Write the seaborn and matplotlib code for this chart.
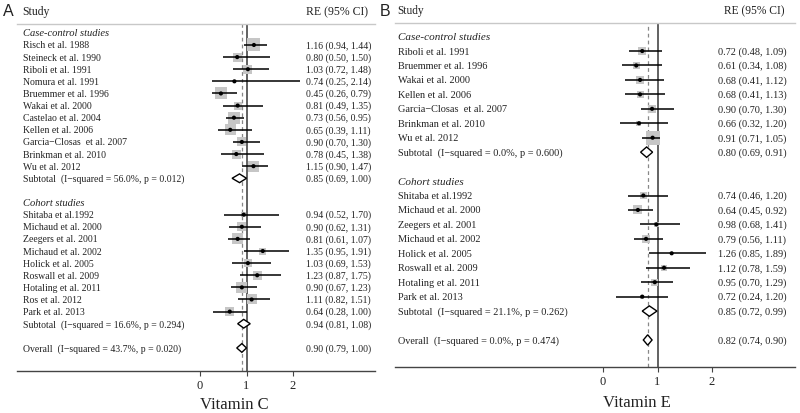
import numpy as np
import pandas as pd
import matplotlib
matplotlib.use("Agg")
import matplotlib.pyplot as plt
from matplotlib.patches import Polygon
import seaborn as sns

# ---- Vitamin C ----
c_cc_study = ["Risch et al. 1988", "Steineck et al. 1990", "Riboli et al. 1991", "Nomura et al. 1991",
              "Bruemmer et al. 1996", "Wakai et al. 2000", "Castelao et al. 2004", "Kellen et al. 2006",
              "Garcia\u2212Closas  et al. 2007", "Brinkman et al. 2010", "Wu et al. 2012"]
c_cc_re = [1.16, 0.80, 1.03, 0.74, 0.45, 0.81, 0.73, 0.65, 0.90, 0.78, 1.15]
c_cc_lo = [0.94, 0.50, 0.72, 0.25, 0.26, 0.49, 0.56, 0.39, 0.70, 0.45, 0.90]
c_cc_hi = [1.44, 1.50, 1.48, 2.14, 0.79, 1.35, 0.95, 1.11, 1.30, 1.38, 1.47]
c_cc_wt = [13, 9, 9, 3, 12, 8, 12, 11, 9, 9, 11]

c_co_study = ["Shitaba et al.1992", "Michaud et al. 2000", "Zeegers et al. 2001", "Michaud et al. 2002",
              "Holick et al. 2005", "Roswall et al. 2009", "Hotaling et al. 2011", "Ros et al. 2012",
              "Park et al. 2013"]
c_co_re = [0.94, 0.90, 0.81, 1.35, 1.03, 1.23, 0.90, 1.11, 0.64]
c_co_lo = [0.52, 0.62, 0.61, 0.95, 0.69, 0.87, 0.67, 0.82, 0.28]
c_co_hi = [1.70, 1.31, 1.07, 1.91, 1.53, 1.75, 1.23, 1.51, 1.00]
c_co_wt = [5, 9, 11, 7, 8, 9, 11, 10, 9]

c_sub_re = [0.85, 0.94]
c_sub_lo = [0.69, 0.81]
c_sub_hi = [1.00, 1.08]
c_sub_i2 = ["56.0%", "16.6%"]
c_sub_p = ["0.012", "0.294"]
c_all = [0.90, 0.79, 1.00]
c_all_i2, c_all_p = "43.7%", "0.020"

# ---- Vitamin E ----
e_cc_study = ["Riboli et al. 1991", "Bruemmer et al. 1996", "Wakai et al. 2000", "Kellen et al. 2006",
              "Garcia\u2212Closas  et al. 2007", "Brinkman et al. 2010", "Wu et al. 2012"]
e_cc_re = [0.72, 0.61, 0.68, 0.68, 0.90, 0.66, 0.91]
e_cc_lo = [0.48, 0.34, 0.41, 0.41, 0.70, 0.32, 0.71]
e_cc_hi = [1.09, 1.08, 1.12, 1.13, 1.30, 1.20, 1.05]
e_cc_wt = [8, 7, 8, 7, 8, 5, 14]

e_co_study = ["Shitaba et al.1992", "Michaud et al. 2000", "Zeegers et al. 2001", "Michaud et al. 2002",
              "Holick et al. 2005", "Roswall et al. 2009", "Hotaling et al. 2011", "Park et al. 2013"]
e_co_re = [0.74, 0.64, 0.98, 0.79, 1.26, 1.12, 0.95, 0.72]
e_co_lo = [0.46, 0.45, 0.68, 0.56, 0.85, 0.78, 0.70, 0.24]
e_co_hi = [1.20, 0.92, 1.41, 1.11, 1.89, 1.59, 1.29, 1.20]
e_co_wt = [7, 9, 5, 8, 3, 6, 7, 4]

e_sub_re = [0.80, 0.85]
e_sub_lo = [0.69, 0.72]
e_sub_hi = [0.91, 0.99]
e_sub_i2 = ["0.0%", "21.1%"]
e_sub_p = ["0.600", "0.262"]
e_all = [0.82, 0.74, 0.90]
e_all_i2, e_all_p = "0.0%", "0.474"

group_names = ["Case-control studies", "Cohort studies"]

sns.set_style("white")
plt.rcParams["font.family"] = ["Liberation Serif", "DejaVu Serif"]
TXT = "#222222"


def ci_text(re, lo, hi):
    return f"{re:.2f} ({lo:.2f}, {hi:.2f})"


def diamond(ax, row, re, lo, hi, h=0.36):
    ax.add_patch(Polygon([[lo, row], [re, row - h], [hi, row], [re, row + h]],
                         closed=True, facecolor="white", edgecolor="black", lw=1.0, zorder=4))


def forest(ax, groups, subs, overall, ylim, fs, fs_head, xlabel, label_y, xname, xval, xhead):
    trans = ax.get_yaxis_transform()
    row = 0
    study_rows = []
    for name, g, s in zip(group_names, groups, subs):
        ax.text(xname, row, name, transform=trans, fontsize=fs + 0.6, style="italic",
                va="center", color=TXT)
        row += 1
        rows = list(range(row, row + len(g["study"])))
        df = pd.DataFrame({"row": rows, "re": g["re"], "lo": g["lo"], "hi": g["hi"],
                           "wt": g["wt"], "study": g["study"]})
        study_rows.append(df)
        for r, st, re, lo, hi in zip(rows, g["study"], g["re"], g["lo"], g["hi"]):
            ax.text(xname, r, st, transform=trans, fontsize=fs, va="center", color=TXT)
            ax.text(xval, r, ci_text(re, lo, hi), transform=trans, fontsize=fs, va="center", color=TXT)
        row += len(rows)
        re, lo, hi, i2, p = s
        diamond(ax, row, re, lo, hi)
        ax.text(xname, row, f"Subtotal  (I\u2212squared = {i2}, p = {p})", transform=trans,
                fontsize=fs, va="center", color=TXT)
        ax.text(xval, row, ci_text(re, lo, hi), transform=trans, fontsize=fs, va="center", color=TXT)
        row += 2
    re, lo, hi, i2, p = overall
    diamond(ax, row, re, lo, hi)
    ax.text(xname, row, f"Overall  (I\u2212squared = {i2}, p = {p})", transform=trans,
            fontsize=fs, va="center", color=TXT)
    ax.text(xval, row, ci_text(re, lo, hi), transform=trans, fontsize=fs, va="center", color=TXT)

    df = pd.concat(study_rows, ignore_index=True)
    ax.hlines(df["row"], df["lo"], df["hi"], color="black", lw=1.1, zorder=3)
    sns.scatterplot(data=df, x="re", y="row", marker="s", s=(df["wt"] * 0.72) ** 2,
                    color="#c6c6c6", edgecolor="none", linewidth=0, ax=ax, zorder=2, legend=False)
    sns.scatterplot(data=df, x="re", y="row", marker="o", s=9, color="black",
                    edgecolor="none", ax=ax, zorder=5, legend=False)

    ax.axvline(1, color="#555555", lw=1.3, zorder=1)
    ax.axvline(overall[0], color="#888888", lw=0.9, ls=(0, (3, 2.5)), zorder=1)

    ax.set_ylim(*ylim)
    ax.set_xticks([0, 1, 2])
    ax.set_xticklabels(["0", "1", "2"])
    ax.set_yticks([])
    ax.set_xlabel("")
    ax.set_ylabel("")
    ax.tick_params(axis="x", bottom=True, length=3.5, width=0.8, color="#444444",
                   labelsize=9, pad=2.5, labelcolor=TXT)
    for sp in ["left", "right"]:
        ax.spines[sp].set_visible(False)
    ax.spines["top"].set_color("#c8c8c8")
    ax.spines["top"].set_linewidth(1.0)
    ax.spines["bottom"].set_color("#444444")
    ax.spines["bottom"].set_linewidth(1.0)

    ax.text(xname - 0.003, 1.037, "Study", transform=ax.transAxes, fontsize=fs_head, va="center", color=TXT)
    ax.text(xhead, 1.037, "RE (95% CI)", transform=ax.transAxes, fontsize=fs_head, va="center", color=TXT)
    xt = matplotlib.transforms.blended_transform_factory(ax.transData, ax.transAxes)
    ax.text(0, label_y, xlabel, transform=xt, fontsize=12, ha="left", va="center", color=TXT)


fig = plt.figure(figsize=(8, 4.14), dpi=100)
W, H = 800, 414
axA = fig.add_axes([17 / W, 1 - 372 / H, 358 / W, 347 / H])
axB = fig.add_axes([395 / W, 1 - 368 / H, 400 / W, 344 / H])

axA.set_xlim((17 - 200) / 46.5, (375 - 200) / 46.5)
axB.set_xlim((395 - 603) / 54.5, (795 - 603) / 54.5)

groupsC = [dict(study=c_cc_study, re=c_cc_re, lo=c_cc_lo, hi=c_cc_hi, wt=c_cc_wt),
           dict(study=c_co_study, re=c_co_re, lo=c_co_lo, hi=c_co_hi, wt=c_co_wt)]
subsC = list(zip(c_sub_re, c_sub_lo, c_sub_hi, c_sub_i2, c_sub_p))
forest(axA, groupsC, subsC, (*c_all, c_all_i2, c_all_p), (27.9, -0.73), 7.0, 8.5,
       "Vitamin C", -0.095, 0.017, 0.807, 0.807)

groupsE = [dict(study=e_cc_study, re=e_cc_re, lo=e_cc_lo, hi=e_cc_hi, wt=e_cc_wt),
           dict(study=e_co_study, re=e_co_re, lo=e_co_lo, hi=e_co_hi, wt=e_co_wt)]
subsE = list(zip(e_sub_re, e_sub_lo, e_sub_hi, e_sub_i2, e_sub_p))
forest(axB, groupsE, subsE, (*e_all, e_all_i2, e_all_p), (22.87, -0.94), 7.4, 8.3,
       "Vitamin E", -0.102, 0.008, 0.8075, 0.8225)

fig.text(3 / W, 1 - 12 / H, "A", fontsize=11.5, family="Liberation Sans", va="center", ha="left", color=TXT)
fig.text(380 / W, 1 - 12 / H, "B", fontsize=11.5, family="Liberation Sans", va="center", ha="left", color=TXT)

fig.savefig("out.png", dpi=100)
